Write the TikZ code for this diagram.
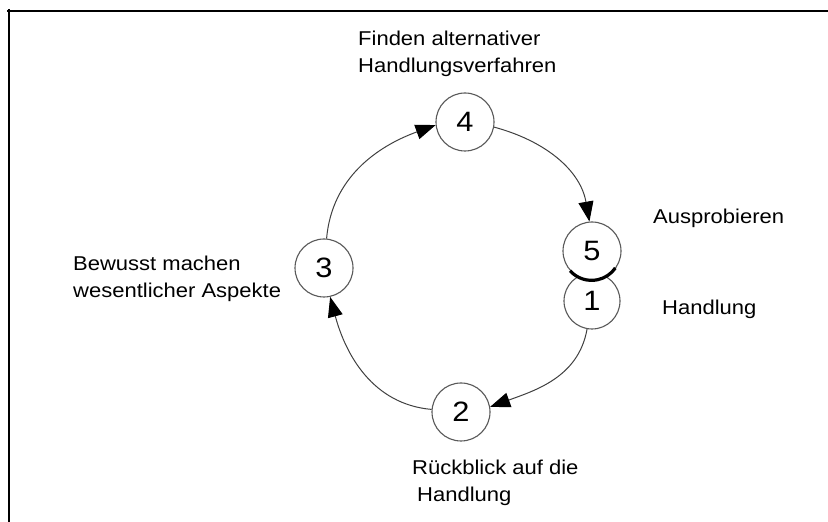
\documentclass[tikz,border=0pt]{standalone}
\usepackage{fontspec}
\setmainfont{Liberation Sans}[FakeStretch=1.1]
\usetikzlibrary{arrows.meta}
\begin{document}
\begin{tikzpicture}[x=1pt,y=1pt,
  stepcircle/.style={circle, draw=black!65, line width=1.1pt, fill=white, minimum size=58pt, inner sep=0pt, font=\fontsize{28}{28}\selectfont},
  lbl/.style={anchor=base west, align=left, inner sep=0pt, font=\fontsize{20}{27.5}\selectfont},
  conn/.style={draw=black!75, line width=1pt, -{Triangle[length=20pt,width=15pt,fill=black,color=black]}},
  frame/.style={line width=2.5pt}]
\useasboundingbox (0,0) rectangle (828,522);
\draw[frame] (7,511) -- (828,511);
\draw[frame] (9,513) -- (9,0);
% circles
\node[stepcircle, minimum size=56pt] (n1) at (592,221) {1};
\node[stepcircle] (n5) at (592,271) {5};
\node[stepcircle] (n4) at (465,400) {4};
\node[stepcircle] (n3) at (324,254) {3};
\node[stepcircle] (n2) at (461,110) {2};
\draw[line width=3.2pt] (n5.222) arc[start angle=222, end angle=325, radius=29pt];
% connectors
\draw[conn] (n3.85) to[out=85, in=200] (n4.186);
\draw[conn] (n4.-10) to[out=-15, in=100] (n5.95);
\draw[conn] (n1.-100) to[out=-100, in=20] (n2.10);
\draw[conn] (n2.175) to[out=175, in=-75] (n3.-78);
% labels
\node[lbl] (t4) at (358,449) {Finden alternativer\\Handlungsverfahren};
\node[lbl] (t3) at (73,224) {Bewusst machen\\wesentlicher Aspekte};
\node[lbl] (t5) at (653,298) {Ausprobieren};
\node[lbl] (t1) at (662,207) {Handlung};
\node[lbl] (t2) at (412,20) {Rückblick auf die\\\hspace*{5pt}Handlung};
\end{tikzpicture}
\end{document}
